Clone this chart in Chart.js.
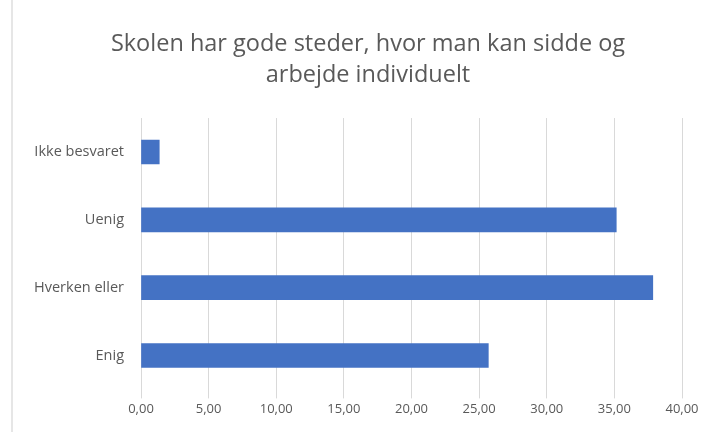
<!DOCTYPE html>
<html>
<head>
<meta charset="utf-8">
<script src="https://cdn.jsdelivr.net/npm/chart.js@4/dist/chart.umd.min.js"></script>
<style>
  html, body { margin: 0; padding: 0; background: #ffffff; }
  #wrap { position: relative; width: 719px; height: 432px; }
  #edge { position: absolute; left: 11px; top: 0; width: 2px; height: 432px; background: #e6e6e6; }
  canvas { position: absolute; left: 0; top: 0; }
</style>
</head>
<body>
<div id="wrap">
  <div id="edge"></div>
  <canvas id="c" width="719" height="432"></canvas>
</div>
<script>
const titleLines = ['Skolen har gode steder, hvor man kan sidde og', 'arbejde individuelt'];
const categories = ['Ikke besvaret', 'Uenig', 'Hverken eller', 'Enig'];
const values = [1.35, 35.14, 37.84, 25.68];
const xMin = 0, xMax = 40, xStep = 5;

const textColor = '#595959';
const fontFamily = '"Open Sans", "Liberation Sans", sans-serif';

// shift the title block so it is centred like the original (centre ~368px)
const titleShift = {
  id: 'titleShift',
  afterLayout(chart) {
    const t = chart.titleBlock;
    if (t) { t.left += 18.5; t.right += 18.5; }
  }
};

new Chart(document.getElementById('c'), {
  type: 'bar',
  data: {
    labels: categories,
    datasets: [{
      data: values,
      backgroundColor: '#4472C4',
      borderWidth: 0,
      barThickness: 24
    }]
  },
  options: {
    indexAxis: 'y',
    responsive: false,
    animation: false,
    devicePixelRatio: 1,
    layout: { padding: { left: 17, right: 37, top: 0, bottom: 12 } },
    plugins: {
      legend: { display: false },
      tooltip: { enabled: false },
      title: {
        display: true,
        text: titleLines,
        color: textColor,
        font: { family: fontFamily, size: 23.5, weight: 'normal', lineHeight: 1.32 },
        padding: { top: 29, bottom: 27 }
      }
    },
    scales: {
      x: {
        min: xMin,
        max: xMax,
        ticks: {
          stepSize: xStep,
          color: textColor,
          font: { family: fontFamily, size: 13 },
          padding: 3,
          maxRotation: 0,
          callback: v => v.toFixed(2).replace('.', ',')
        },
        grid: { color: '#d9d9d9', lineWidth: 1, drawTicks: true, tickLength: 9, tickColor: '#d9d9d9' },
        border: { display: false }
      },
      y: {
        ticks: {
          color: textColor,
          font: { family: fontFamily, size: 14.5 },
          padding: 17
        },
        grid: { display: false, drawTicks: false },
        border: { display: false },
        afterFit: s => { s.width = 124; }
      }
    }
  },
  plugins: [titleShift]
});
</script>
</body>
</html>
